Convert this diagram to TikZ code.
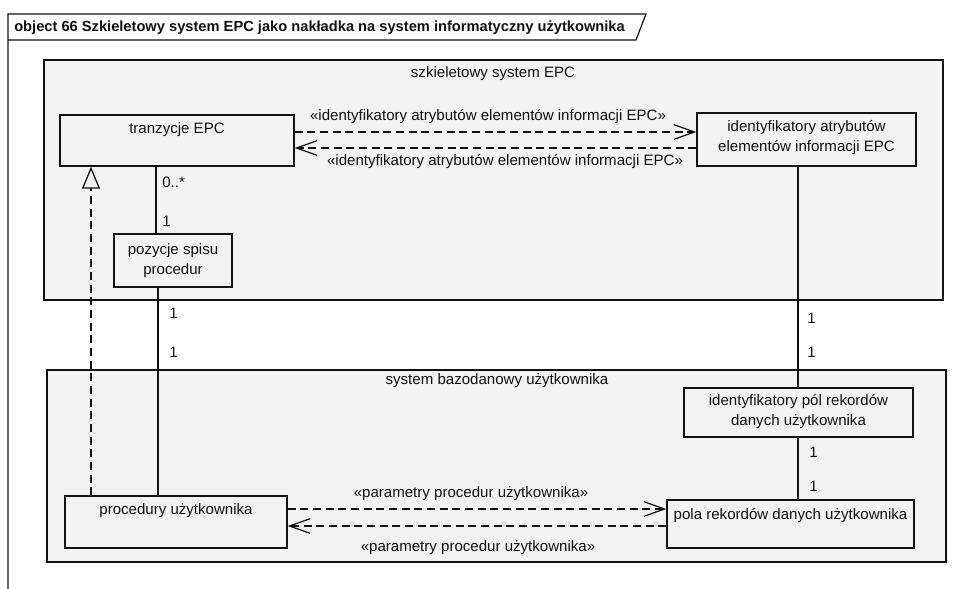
\documentclass[tikz,border=0pt]{standalone}
\usepackage{fontspec}
\setmainfont{Liberation Sans}
\usetikzlibrary{arrows.meta,fit}
\definecolor{pkgfill}{HTML}{F2F2F2}
\definecolor{ink}{HTML}{111111}
\begin{document}
\begin{tikzpicture}[x=0.75pt,y=-0.75pt,
  txt/.style={font=\fontsize{11.3}{15.5}\selectfont, inner sep=0pt, align=center, text=ink},
  titletxt/.style={font=\bfseries\fontsize{11}{13}\selectfont, inner sep=0pt, anchor=west, text=ink},
  frameline/.style={draw=ink, line width=0.9pt},
  pkg/.style={draw=ink, fill=pkgfill, line width=1.15pt, inner sep=0pt},
  cls/.style={draw=ink, fill=pkgfill, line width=1pt, inner sep=0pt},
  assoc/.style={draw=ink, line width=0.95pt},
  dep/.style={draw=ink, line width=0.9pt, dash pattern=on 6pt off 3.5pt,
    -{Straight Barb[length=15.5pt, width=11pt, line width=0.9pt]}},
  realize/.style={draw=ink, line width=0.95pt, dash pattern=on 6pt off 3.5pt,
    -{Triangle[open, length=16.5pt, width=13.5pt, line width=0.95pt, fill=pkgfill]}},
]
\useasboundingbox (0,0) rectangle (968,589);
\fill[white] (0,0) rectangle (968,589);

% diagram frame with its name tab
\draw[frameline] (8,590) -- (8,14) -- (646,14) -- (636,40) -- (8,40);
\node[titletxt] (title) at (14,27.5)
  {object 66 Szkieletowy system EPC jako nakładka na system informatyczny użytkownika};

% packages
\node[pkg, fit={(44,60) (943,300)}] (epc) {};
\node[txt] (epcName) at (493,74) {szkieletowy system EPC};
\node[pkg, fit={(47,370) (946,562)}] (usr) {};
\node[txt] (usrName) at (497,381) {system bazodanowy użytkownika};

% classes
\node[cls, fit={(60,115) (294,166)}] (tr) {};
\node[txt] (trName) at (177,130) {tranzycje EPC};
\node[cls, fit={(114,234) (232,287)}] (poz) {};
\node[txt] (pozName) at (173,260.5) {pozycje spisu\\procedur};
\node[cls, fit={(697,113) (916,166)}] (ida) {};
\node[txt] (idaName) at (806.5,137.5) {identyfikatory atrybutów\\elementów informacji EPC};
\node[cls, fit={(684,388) (913,437)}] (idp) {};
\node[txt] (idpName) at (798.5,411.5) {identyfikatory pól rekordów\\danych użytkownika};
\node[cls, fit={(65,496) (287,548)}] (proc) {};
\node[txt] (procName) at (176,511) {procedury użytkownika};
\node[cls, fit={(667,500) (914,548)}] (pola) {};
\node[txt] (polaName) at (790.5,516) {pola rekordów danych użytkownika};

% associations
\draw[assoc] (tr.south -| 156,0) -- (poz.north -| 156,0);
\node[txt, anchor=west] (m1) at (162,182) {0..*};
\node[txt, anchor=west] (m2) at (162,221) {1};

\draw[assoc] (poz.south -| 158,0) -- (proc.north -| 158,0);
\node[txt, anchor=west] (m3) at (169,313) {1};
\node[txt, anchor=west] (m4) at (169,352) {1};

\draw[assoc] (ida.south -| 798,0) -- (idp.north -| 798,0);
\node[txt, anchor=west] (m5) at (807,318) {1};
\node[txt, anchor=west] (m6) at (807,352) {1};

\draw[assoc] (idp.south -| 798,0) -- (pola.north -| 798,0);
\node[txt, anchor=west] (m7) at (809,452) {1};
\node[txt, anchor=west] (m8) at (809,486) {1};

% realization
\draw[realize] (proc.north -| 91,0) -- (tr.south -| 91,0);

% dependencies between the EPC classes
\draw[dep] (tr.east |- 0,132) -- (ida.west |- 0,132);
\draw[dep] (ida.west |- 0,148) -- (tr.east |- 0,148);
\node[txt] (d1) at (488,117) {«identyfikatory atrybutów elementów informacji EPC»};
\node[txt] (d2) at (505,162) {«identyfikatory atrybutów elementów informacji EPC»};

% dependencies between the user classes
\draw[dep] (proc.east |- 0,509) -- (pola.west |- 0,509);
\draw[dep] (pola.west |- 0,526) -- (proc.east |- 0,526);
\node[txt] (d3) at (471,494) {«parametry procedur użytkownika»};
\node[txt] (d4) at (478,548) {«parametry procedur użytkownika»};
\end{tikzpicture}
\end{document}
